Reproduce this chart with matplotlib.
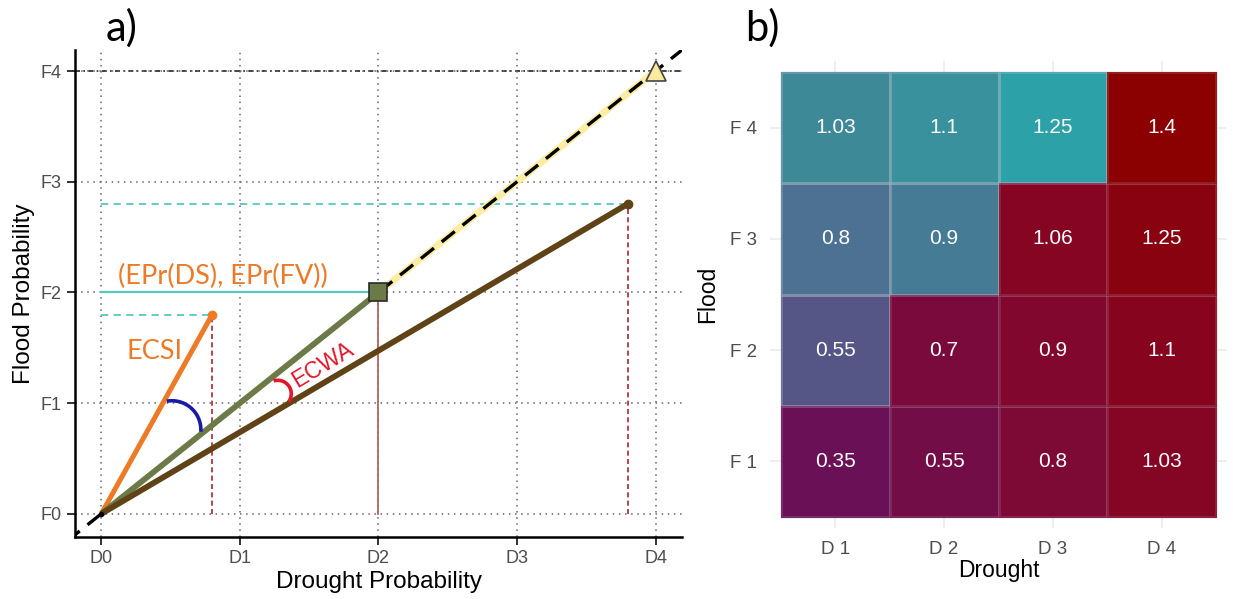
import numpy as np
import matplotlib.pyplot as plt
from matplotlib.colors import LinearSegmentedColormap, Normalize

# panel a: probability space
prob_ticks = [0, 1, 2, 3, 4]
d_labels = ["D0", "D1", "D2", "D3", "D4"]
f_labels = ["F0", "F1", "F2", "F3", "F4"]
ecsi_pt = (0.8, 1.8)      # orange
epr_pt = (2.0, 2.0)       # olive square
ecwa_pt = (3.8, 2.8)      # brown
max_pt = (4.0, 4.0)       # triangle

# panel b: heatmap values, rows F1..F4, cols D1..D4
drought_cats = ["D 1", "D 2", "D 3", "D 4"]
flood_cats = ["F 1", "F 2", "F 3", "F 4"]
values = np.array([
    [0.35, 0.55, 0.80, 1.03],
    [0.55, 0.70, 0.90, 1.10],
    [0.80, 0.90, 1.06, 1.25],
    [1.03, 1.10, 1.25, 1.40],
])
# 1 = blue scale, 0 = red scale
blue_group = np.array([
    [0, 0, 0, 0],
    [1, 0, 0, 0],
    [1, 1, 0, 0],
    [1, 1, 1, 0],
])

W, H = 1233, 599
fig = plt.figure(figsize=(W / 100, H / 100), dpi=100)
sans = ["Liberation Sans", "DejaVu Sans"]
hum = ["Lato", "Open Sans", "DejaVu Sans"]

# ---------------- a) ----------------
ax_w, ax_h = 607, 487
ax = fig.add_axes([75 / W, 1 - 537 / H, ax_w / W, ax_h / H])
xmin, xmax, ymin, ymax = -0.19, 4.19, -0.21, 4.19
ax.set_xlim(xmin, xmax)
ax.set_ylim(ymin, ymax)

ax.set_xticks(prob_ticks, d_labels)
ax.set_yticks(prob_ticks, f_labels)
ax.grid(True, ls=(0, (1, 3)), color="#666666", lw=1.1, zorder=0)
ax.axhline(4, ls=(0, (3, 2, 1, 2)), color="#222222", lw=1.2, zorder=1)
for s in ["top", "right"]:
    ax.spines[s].set_visible(False)
for s in ["left", "bottom"]:
    ax.spines[s].set_linewidth(1.8)
ax.tick_params(length=6, width=1.4, color="#333333", labelcolor="#4D4D4D",
               labelsize=13)
for lab in ax.get_xticklabels() + ax.get_yticklabels():
    lab.set_family(sans)
ax.set_xlabel("Drought Probability", fontsize=17.5, family=sans, labelpad=3)
ax.set_ylabel("Flood Probability", fontsize=17.5, family=sans, labelpad=4)

# projection lines
teal = "#55C8C4"
ax.plot([0, ecwa_pt[0]], [ecwa_pt[1]] * 2, ls=(0, (4, 3)), color=teal, lw=1.3, zorder=2)
ax.plot([0, ecsi_pt[0]], [ecsi_pt[1]] * 2, ls=(0, (4, 3)), color=teal, lw=1.3, zorder=2)
ax.plot([0, epr_pt[0]], [epr_pt[1]] * 2, color=teal, lw=1.6, zorder=2)
ax.plot([ecsi_pt[0]] * 2, [0, ecsi_pt[1]], ls=(0, (3, 2)), color="#A8262E", lw=1.2, zorder=2)
ax.plot([ecwa_pt[0]] * 2, [0, ecwa_pt[1]], ls=(0, (3, 2)), color="#A8262E", lw=1.2, zorder=2)
ax.plot([epr_pt[0]] * 2, [0, epr_pt[1]], color="#B86464", lw=1.3, zorder=2)

# 1:1 diagonal
ax.plot([epr_pt[0], max_pt[0]], [epr_pt[1], max_pt[1]], color="#FBEDA4", lw=5, zorder=3)
ax.plot([-0.25, 4.3], [-0.25, 4.3], color="black", lw=2.4, ls=(0, (5, 3)), zorder=4)

# vectors from the origin
ax.plot([0, ecsi_pt[0]], [0, ecsi_pt[1]], color="#EC7A26", lw=3.6, zorder=5,
        solid_capstyle="butt")
ax.plot(*ecsi_pt, "o", color="#EC7A26", ms=6, zorder=5)
ax.plot([0, epr_pt[0]], [0, epr_pt[1]], color="#6B7A47", lw=4.2, zorder=5,
        solid_capstyle="butt")
ax.plot([0, ecwa_pt[0]], [0, ecwa_pt[1]], color="#5F4216", lw=4.2, zorder=5,
        solid_capstyle="butt")
ax.plot(*ecwa_pt, "o", color="#5F4216", ms=6, zorder=5)
ax.plot(0, 0, "o", color="black", ms=3, zorder=6)

ax.plot(*epr_pt, "s", ms=13, mfc="#6B7A47", mec="#2A2A2A", mew=1.2, zorder=7)
ax.plot(*max_pt, "^", ms=15, mfc="#FBE9A0", mec="#444444", mew=1.2, zorder=7)

# angle marks, round in screen space
sx = ax_w / (xmax - xmin)
sy = ax_h / (ymax - ymin)


def arc(cx, cy, r, t1, t2, color):
    t = np.radians(np.linspace(t1, t2, 60))
    ax.plot(cx + r * np.cos(t) / sx, cy + r * np.sin(t) / sy, color=color,
            lw=2.6, zorder=6, solid_capstyle="butt")


arc(0.509, 0.759, 29, -4, 100, "#1A1AA8")
arc(1.273, 1.084, 13.5, -37, 108, "#E0182A")

ax.text(0.386, 1.47, "ECSI", color="#EC7A26", fontsize=19.5, family=hum,
        ha="center", va="center", zorder=8)
ax.text(1.60, 1.346, "ECWA", color="#E0182A", fontsize=16.5, family=sans,
        rotation=31, ha="center", va="center", rotation_mode="anchor", zorder=8)
ax.text(0.12, 2.14, "(EPr(DS), EPr(FV))", color="#EC7A26", fontsize=19.5,
        family=hum, ha="left", va="center", zorder=8)

fig.text(122 / W, 1 - 28 / H, "a)", fontsize=30, family=hum, ha="center", va="center")
fig.text(762 / W, 1 - 28 / H, "b)", fontsize=30, family=hum, ha="center", va="center")

# ---------------- b) ----------------
bx = fig.add_axes([770 / W, 1 - 528 / H, 457 / W, 467 / H])
edges = np.arange(0.5, 5.0, 1.0)
blue_cmap = LinearSegmentedColormap.from_list("bl", ["#565686", "#4E6F92", "#3F8797", "#2CA2A8"])
red_cmap = LinearSegmentedColormap.from_list("rd", ["#6A1056", "#7A0A3C", "#860524", "#8B0000"])
vb = np.ma.masked_where(blue_group == 0, values)
vr = np.ma.masked_where(blue_group == 1, values)
edge = (0.78, 0.78, 0.82, 0.15)
bx.pcolormesh(edges, edges, vb, cmap=blue_cmap, norm=Normalize(0.55, 1.25),
              edgecolor=edge, lw=0.8, zorder=2)
bx.pcolormesh(edges, edges, vr, cmap=red_cmap, norm=Normalize(0.35, 1.4),
              edgecolor=edge, lw=0.8, zorder=2)
for i in range(4):
    for j in range(4):
        bx.text(j + 1, i + 1, f"{values[i, j]:g}", color="white", fontsize=15,
                family=sans, ha="center", va="center", zorder=3)

bx.set_xlim(0.4, 4.6)
bx.set_ylim(0.4, 4.6)
bx.set_xticks(range(1, 5), drought_cats)
bx.set_yticks(range(1, 5), flood_cats)
bx.grid(True, color="#EBEBEB", lw=1.2, zorder=0)
bx.set_axisbelow(True)
for s in bx.spines.values():
    s.set_visible(False)
bx.tick_params(length=0, labelcolor="#4D4D4D", labelsize=13.5, pad=9)
for lab in bx.get_xticklabels() + bx.get_yticklabels():
    lab.set_family(sans)
bx.set_xlabel("Drought", fontsize=16.5, family=sans, labelpad=1)
bx.set_ylabel("Flood", fontsize=16.5, family=sans, labelpad=8)

fig.savefig("out.png", dpi=100)
